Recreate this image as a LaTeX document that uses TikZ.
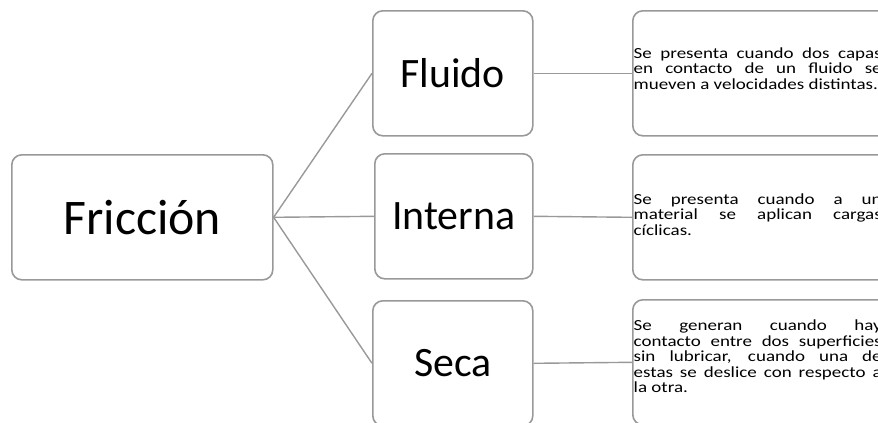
\documentclass[tikz,border=0pt]{standalone}
\usepackage{fontspec}
\setmainfont{Carlito}
\newfontfamily\descfont[FakeStretch=1.23]{Carlito}
\begin{document}
\begin{tikzpicture}[x=1bp,y=-1bp,
  box/.style={draw=black!40, line width=1.6bp, rounded corners=10bp, fill=white, inner sep=0pt, anchor=north west},
  link/.style={draw=black!40, line width=1.4bp},
  desc/.style={font=\descfont\fontsize{15.5}{15.5}\selectfont, align=justify, text width=248bp, anchor=west, inner sep=0pt}
]
\useasboundingbox (0,0) rectangle (878,422);
\clip (0,0) rectangle (878,422);
% main node
\node[box, minimum width=261bp, minimum height=125bp] (fr) at (11,154) {};
\node[font=\fontsize{50}{55}\selectfont] at (fr.center) {Fricción};
% category nodes
\node[box, minimum width=160bp, minimum height=125bp] (flu) at (372,10) {};
\node[font=\fontsize{42}{46}\selectfont] at (flu.center) {Fluido};
\node[box, minimum width=158bp, minimum height=125bp] (int) at (374,153) {};
\node[font=\fontsize{42}{46}\selectfont] at (int.center) {Interna};
\node[box, minimum width=160bp, minimum height=125bp] (sec) at (372,300) {};
\node[font=\fontsize{42}{46}\selectfont] at (sec.center) {Seca};
% description boxes
\node[box, minimum width=260bp, minimum height=125bp] (dflu) at (632,10) {};
\node[box, minimum width=260bp, minimum height=125bp] (dint) at (632,154) {};
\node[box, minimum width=260bp, minimum height=125bp] (dsec) at (632,299) {};
\node[desc] at ([xshift=1.5bp,yshift=5bp]dflu.west) {Se presenta cuando dos capas\linebreak en contacto de un fluido se\linebreak mueven a velocidades distintas.};
\node[desc] at ([xshift=1.5bp,yshift=3bp]dint.west) {Se presenta cuando a un\linebreak material se aplican cargas\linebreak cíclicas.};
\node[desc] at ([xshift=1.5bp,yshift=6bp]dsec.west) {Se generan cuando hay\linebreak contacto entre dos superficies\linebreak sin lubricar, cuando una de\linebreak estas se deslice con respecto a\linebreak la otra.};
% connectors
\draw[link] (fr.east) -- (flu.west);
\draw[link] (fr.east) -- (int.west);
\draw[link] (fr.east) -- (sec.west);
\draw[link] (flu.east) -- (dflu.west);
\draw[link] (int.east) -- (dint.west);
\draw[link] (sec.east) -- (dsec.west);
\end{tikzpicture}
\end{document}
